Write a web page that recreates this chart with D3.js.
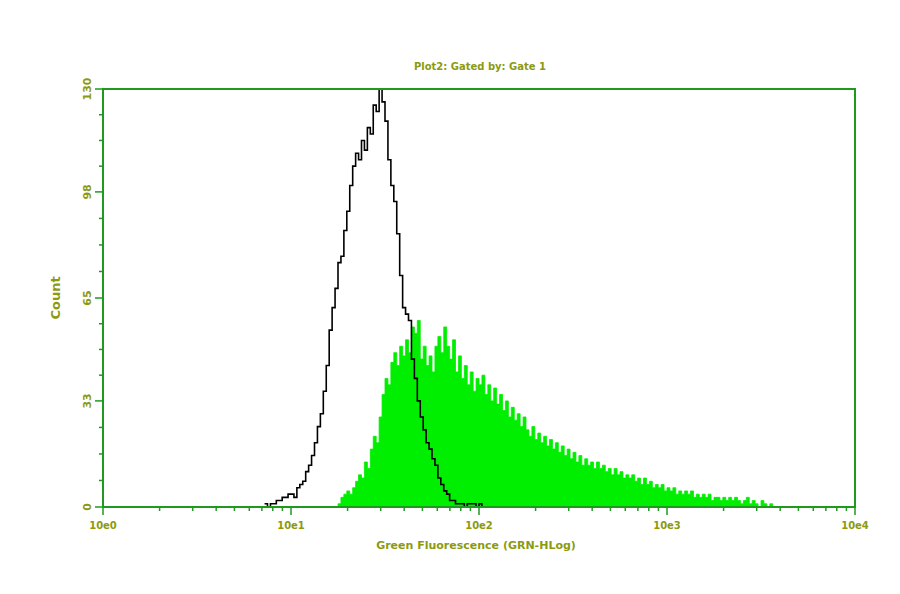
<!DOCTYPE html>
<html>
<head>
<meta charset="utf-8">
<script src="https://cdn.jsdelivr.net/npm/d3@7"></script>
<style>
  body { margin: 0; background: #fff; }
  text { font-family: "DejaVu Sans", sans-serif; font-weight: bold; }
</style>
</head>
<body>
<div id="chart"></div>
<script>
// Histogram data: 256 log channels over 4 decades
var channels = 256
var blackStart = 55
var blackCounts = [1,0,1,1,2,2,3,3,4,4,3,6,7,8,11,13,16,20,25,29,36,44,55,62,68,76,78,86,92,100,106,110,108,114,111,118,116,125,123,130,126,120,108,100,95,85,72,62,60,58,46,40,33,28,24,20,18,15,13,9,7,5,4,2,2,1,1,1,0,1,1,1,0,1,0]
var greenStart = 80
var greenCounts = [1,3,4,5,4,6,8,10,9,14,12,18,22,20,28,35,40,38,45,48,44,50,47,52,48,56,54,58,46,50,44,47,42,50,53,48,56,50,46,52,42,47,40,44,38,42,36,40,38,41,35,38,33,37,32,35,30,33,28,31,27,29,25,28,24,22,25,21,23,20,22,19,21,18,20,17,19,16,18,15,17,14,16,13,15,13,14,12,14,12,13,11,12,10,12,10,11,9,10,9,10,8,9,7,9,7,8,6,7,6,7,5,6,5,6,4,5,4,5,4,5,3,4,3,4,3,4,2,3,3,2,3,2,3,2,3,2,1,2,3,1,2,1,0,2,1,0,1,0]
var yTicks = [0, 33, 65, 98, 130]
var xTickLabels = ['10e0', '10e1', '10e2', '10e3', '10e4']

var width = 900
var height = 594
var margin = { top: 89, right: 45, bottom: 87, left: 103 }
var green = '#1f9a1f'
var olive = '#8c9a10'

var svg = d3.select('#chart')
  .append('svg')
  .attr('width', width)
  .attr('height', height)

var x = d3.scaleLog().domain([1, 10000]).range([margin.left, width - margin.right])
var y = d3.scaleLinear().domain([0, 130]).range([height - margin.bottom, margin.top])

// channel -> value at channel edge
function chVal(c) { return Math.pow(10, c * 4 / channels) }

function steps(start, counts) {
  var pts = []
  counts.forEach(function (v, i) {
    pts.push([chVal(start + i), v])
    pts.push([chVal(start + i + 1), v])
  })
  return pts
}

var greenPts = steps(greenStart, greenCounts)
svg.append('path')
  .datum(greenPts)
  .attr('fill', '#00ee00')
  .attr('stroke', '#00ee00')
  .attr('stroke-width', 0.8)
  .attr('d', d3.area().x(d => x(d[0])).y0(y(0)).y1(d => y(d[1])))

var blackPts = steps(blackStart, blackCounts)
svg.append('path')
  .datum(blackPts)
  .attr('fill', 'none')
  .attr('stroke', '#000')
  .attr('stroke-width', 1.6)
  .attr('d', d3.line().x(d => x(d[0])).y(d => y(d[1])))

// frame
svg.append('rect')
  .attr('x', margin.left).attr('y', margin.top)
  .attr('width', width - margin.left - margin.right)
  .attr('height', height - margin.top - margin.bottom)
  .attr('fill', 'none').attr('stroke', green).attr('stroke-width', 2)

// x ticks
var minor = []
for (var d = 0; d < 4; d++) for (var k = 2; k <= 9; k++) minor.push(k * Math.pow(10, d))
svg.selectAll('.xminor').data(minor).enter().append('line')
  .attr('x1', d => x(d)).attr('x2', d => x(d))
  .attr('y1', y(0)).attr('y2', y(0) + 4)
  .attr('stroke', green).attr('stroke-width', 1.5)
svg.selectAll('.xmajor').data(xTickLabels).enter().append('line')
  .attr('x1', (d, i) => x(Math.pow(10, i))).attr('x2', (d, i) => x(Math.pow(10, i)))
  .attr('y1', y(0)).attr('y2', y(0) + 8)
  .attr('stroke', green).attr('stroke-width', 1.5)
svg.selectAll('.xlab').data(xTickLabels).enter().append('text')
  .attr('x', (d, i) => x(Math.pow(10, i))).attr('y', y(0) + 22)
  .attr('text-anchor', 'middle').attr('font-size', 10).attr('fill', olive)
  .text(d => d)

// y ticks
var yMinor = []
for (var i = 0; i < yTicks.length - 1; i++) {
  var step = (yTicks[i + 1] - yTicks[i]) / 4
  for (var j = 1; j < 4; j++) yMinor.push(yTicks[i] + j * step)
}
svg.selectAll('.yminor').data(yMinor).enter().append('line')
  .attr('x1', margin.left - 4).attr('x2', margin.left)
  .attr('y1', d => y(d)).attr('y2', d => y(d))
  .attr('stroke', green).attr('stroke-width', 1.5)
svg.selectAll('.ymajor').data(yTicks).enter().append('line')
  .attr('x1', margin.left - 8).attr('x2', margin.left)
  .attr('y1', d => y(d)).attr('y2', d => y(d))
  .attr('stroke', green).attr('stroke-width', 1.5)
svg.selectAll('.ylab').data(yTicks).enter().append('text')
  .attr('transform', d => 'translate(' + (margin.left - 12) + ',' + y(d) + ') rotate(-90)')
  .attr('text-anchor', 'middle').attr('font-size', 11).attr('fill', olive)
  .text(d => d)

// titles
svg.append('text')
  .attr('x', 480).attr('y', 70).attr('text-anchor', 'middle')
  .attr('font-size', 10).attr('fill', olive)
  .text('Plot2:  Gated by: Gate 1')
svg.append('text')
  .attr('x', x(100) - 3).attr('y', 549).attr('text-anchor', 'middle')
  .attr('font-size', 11).attr('fill', olive)
  .text('Green Fluorescence (GRN-HLog)')
svg.append('text')
  .attr('transform', 'translate(60,' + ((margin.top + height - margin.bottom) / 2) + ') rotate(-90)')
  .attr('text-anchor', 'middle').attr('font-size', 13).attr('fill', olive)
  .text('Count')
</script>
</body>
</html>
